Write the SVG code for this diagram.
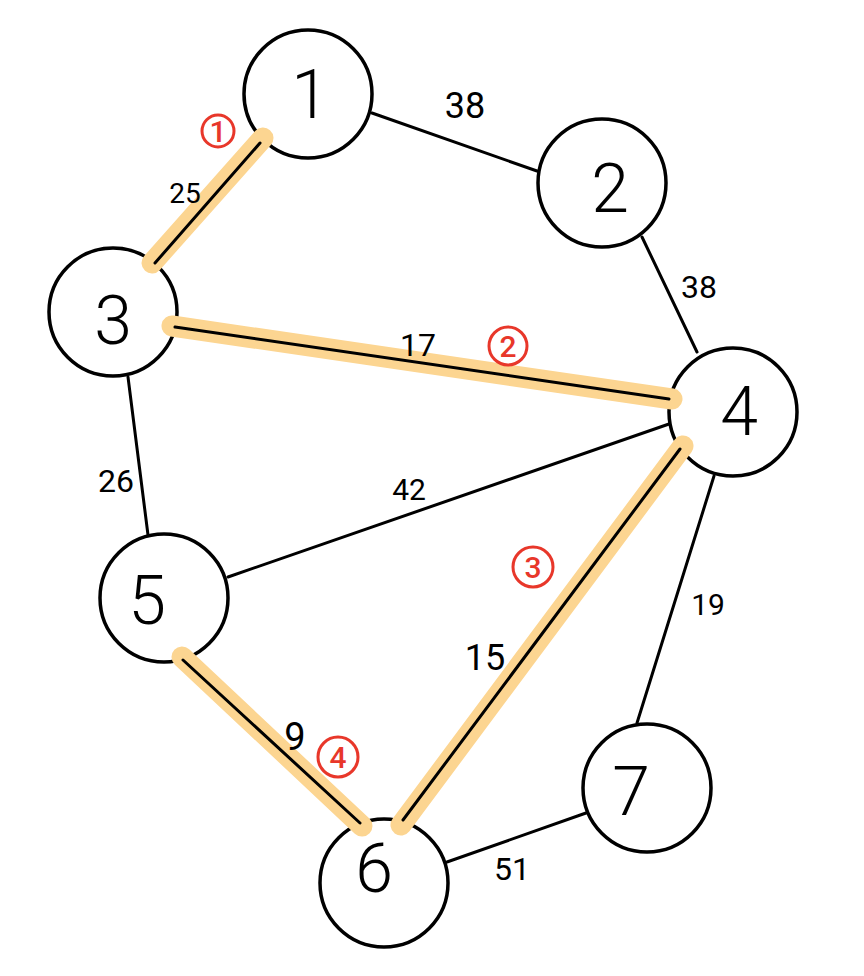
<svg xmlns="http://www.w3.org/2000/svg" width="864" height="976" viewBox="0 0 864 976">
<style>
.node circle{fill:#fff;stroke:#000;stroke-width:3.5}
.node text{font-family:Roboto,"Open Sans",Lato,"Liberation Sans",sans-serif;font-weight:300;font-size:68px;fill:#000;text-anchor:middle}
.hl{stroke:#FCD591;stroke-width:21;stroke-linecap:round;fill:none}
.edge{stroke:#000;stroke-width:3;stroke-linecap:round;fill:none}
.lbl{font-family:Roboto,"Open Sans",Lato,"Liberation Sans",sans-serif;font-weight:400;fill:#000;text-anchor:middle}
.ord circle{fill:none;stroke:#E8372A;stroke-width:3}
.ord text{font-family:Roboto,"Liberation Sans",sans-serif;font-weight:500;font-size:30px;fill:#E8372A;text-anchor:middle}
</style>
<rect width="864" height="976" fill="#fff"/>
<g id="nodes">
<g id="node1" class="node"><circle cx="308" cy="94" r="64"/><text x="310" y="118">1</text></g>
<g id="node2" class="node"><circle cx="602" cy="183" r="64"/><text x="610" y="212">2</text></g>
<g id="node3" class="node"><circle cx="113" cy="312" r="64"/><text x="113" y="344">3</text></g>
<g id="node4" class="node"><circle cx="733" cy="412" r="64"/><text x="739" y="435">4</text></g>
<g id="node5" class="node"><circle cx="164" cy="598" r="64"/><text x="147" y="624">5</text></g>
<g id="node6" class="node"><circle cx="384" cy="883" r="64"/><text x="374" y="892">6</text></g>
<g id="node7" class="node"><circle cx="647" cy="788" r="64"/><text x="631" y="815">7</text></g>
</g>
<g id="connectors">
<line class="hl" x1="263" y1="138" x2="152" y2="263"/>
<line class="hl" x1="172" y1="326" x2="672" y2="399"/>
<line class="hl" x1="683" y1="446" x2="401" y2="825"/>
<line class="hl" x1="182" y1="657" x2="362" y2="826"/>
<line class="edge" x1="372" y1="113" x2="537" y2="171"/>
<line class="edge" x1="642" y1="237" x2="697" y2="352"/>
<line class="edge" x1="260" y1="143" x2="155" y2="263"/>
<line class="edge" x1="175" y1="327" x2="669" y2="399"/>
<line class="edge" x1="128" y1="377" x2="148" y2="535"/>
<line class="edge" x1="228" y1="577" x2="669" y2="424"/>
<line class="edge" x1="680" y1="449" x2="403" y2="820"/>
<line class="edge" x1="183" y1="660" x2="360" y2="823"/>
<line class="edge" x1="714" y1="476" x2="637" y2="723"/>
<line class="edge" x1="447" y1="862" x2="586" y2="813"/>
</g>
<g id="labels">
<text class="lbl" x="465" y="118" font-size="36">38</text>
<text class="lbl" x="699" y="298" font-size="32">38</text>
<text class="lbl" x="185" y="203" font-size="28">25</text>
<text class="lbl" x="418" y="356" font-size="32">17</text>
<text class="lbl" x="116" y="492" font-size="32">26</text>
<text class="lbl" x="409" y="500" font-size="30">42</text>
<text class="lbl" x="485" y="670" font-size="36">15</text>
<text class="lbl" x="295" y="750" font-size="38">9</text>
<text class="lbl" x="708" y="615" font-size="30">19</text>
<text class="lbl" x="512" y="880" font-size="32">51</text>
</g>
<g id="order">
<g class="ord"><circle cx="218" cy="131" r="16"/><text x="218" y="142">1</text></g>
<g class="ord"><circle cx="508" cy="346" r="19"/><text x="508" y="357">2</text></g>
<g class="ord"><circle cx="533" cy="567" r="20"/><text x="533" y="578">3</text></g>
<g class="ord"><circle cx="338" cy="757" r="20"/><text x="338" y="768">4</text></g>
</g>
</svg>
